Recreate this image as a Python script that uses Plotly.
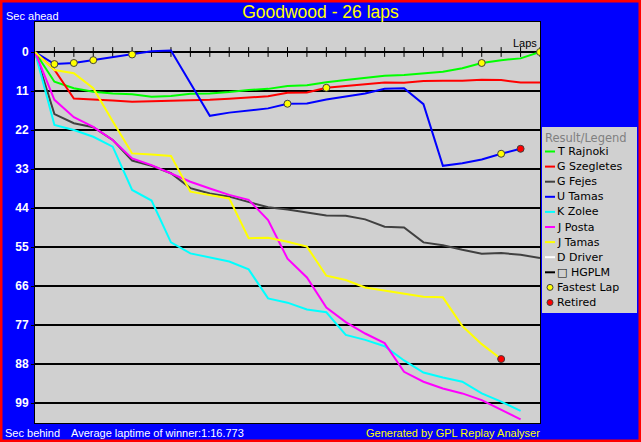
import plotly.graph_objects as go

# ---------------- data ----------------
laps = list(range(27))
y_tick_vals = [0, 11, 22, 33, 44, 55, 66, 77, 88, 99]

drivers = ["T Rajnoki", "G Szegletes", "G Fejes", "U Tamas", "K Zolee",
           "J Posta", "J Tamas", "D Driver", "\u25a1 HGPLM"]
colors = ["#00FF00", "#FF0000", "#404040", "#0000FF", "#00FFFF",
          "#FF00FF", "#FFFF00", "#FFFFFF", "#000000"]

t_rajnoki = [0, 8.4, 10.2, 11.2, 11.7, 11.9, 12.6, 12.4, 11.8, 11.7, 11.3, 10.7, 10.4, 9.6,
             9.4, 8.5, 7.9, 7.3, 6.7, 6.5, 6.0, 5.6, 4.6, 3.1, 2.3, 1.8, 0]
g_szegletes = [0, 5.0, 13.1, 13.5, 13.7, 14.0, 13.9, 13.8, 13.6, 13.5, 13.2, 12.8, 12.5, 11.5,
               11.4, 10.1, 9.6, 8.9, 8.6, 8.7, 8.2, 8.1, 8.1, 7.8, 7.9, 8.6, 8.6]
g_fejes = [0, 17.5, 20.1, 21.2, 24.8, 30.6, 32.1, 34.2, 38.4, 39.9, 40.8, 42.2, 43.8, 44.4,
           45.2, 46.1, 46.2, 47.2, 49.3, 49.5, 53.7, 54.5, 55.8, 56.9, 56.7, 57.2, 58.1]
u_tamas = [0, 3.4, 3.1, 2.3, 1.5, 0.7, -0.2, -0.4, 8.8, 18.0, 17.1, 16.6, 15.9, 14.6,
           14.5, 13.4, 12.6, 11.7, 10.4, 10.2, 14.7, 32.1, 31.4, 30.3, 28.7, 27.3]
k_zolee = [0, 20.6, 22.0, 23.9, 26.7, 38.9, 41.9, 53.7, 56.8, 57.9, 59.1, 61.3, 69.5, 70.7,
           72.6, 73.4, 79.8, 81.2, 83.0, 87.0, 90.4, 91.8, 93.0, 96.3, 98.6, 101.2]
j_posta = [0, 13.5, 18.4, 21.1, 24.8, 30.0, 31.9, 34.2, 36.6, 38.5, 40.3, 41.7, 47.4, 58.3,
           63.6, 72.1, 76.2, 79.4, 82.1, 90.2, 93.0, 94.9, 96.3, 98.2, 101.0, 103.6]
j_tamas = [0, 5.1, 6.0, 10.2, 19.5, 28.6, 28.9, 29.3, 39.4, 40.3, 41.3, 52.5, 52.4, 53.5,
           54.9, 63.1, 64.3, 66.4, 67.3, 68.2, 69.0, 69.2, 77.3, 82.4, 86.6]
d_driver = []
hgplm = []

series = [t_rajnoki, g_szegletes, g_fejes, u_tamas, k_zolee, j_posta, j_tamas, d_driver, hgplm]

# fastest laps: (driver index, lap)
fastest_laps = [(3, 1), (3, 2), (3, 3), (3, 5), (3, 13), (1, 15), (0, 23), (3, 24), (0, 26)]
# retired drivers (marker on last lap completed)
retired = [3, 6]

# ---------------- figure ----------------
W, H = 641, 442
L, R, T, B = 35, 101, 22, 19
PW, PH = W - L - R, H - T - B


def px(xp):
    return (xp - L) / PW


def py(yp):
    return (H - B - yp) / PH


fig = go.Figure()

# tick marks on the zero line (lap ticks)
fig.add_trace(go.Scatter(
    x=laps[1:], y=[0] * len(laps[1:]), mode="markers",
    marker=dict(symbol="line-ns", size=7, line=dict(color="black", width=1)),
    showlegend=False, hoverinfo="skip"))

for name, col, vals in zip(drivers, colors, series):
    if not vals:
        continue
    fig.add_trace(go.Scatter(
        x=laps[:len(vals)], y=vals, mode="lines", name=name,
        line=dict(color=col, width=2), showlegend=False))

fig.add_trace(go.Scatter(
    x=[lap for d, lap in fastest_laps],
    y=[series[d][lap] for d, lap in fastest_laps],
    mode="markers", name="Fastest Lap", showlegend=False,
    marker=dict(symbol="circle", size=7, color="#FFFF00", line=dict(color="#404040", width=1))))

fig.add_trace(go.Scatter(
    x=[len(series[d]) - 1 for d in retired],
    y=[series[d][-1] for d in retired],
    mode="markers", name="Retired", showlegend=False,
    marker=dict(symbol="circle", size=7, color="#FF0000", line=dict(color="#404040", width=1))))

shapes = []
annotations = []

# legend box (manual, to match compact row spacing)
shapes.append(dict(type="rect", xref="paper", yref="paper",
                   x0=px(542), x1=px(637), y0=py(313), y1=py(127),
                   fillcolor="#D0D0D0", line=dict(width=0), layer="above"))
annotations.append(dict(text="Result/Legend", xref="paper", yref="paper",
                        x=px(543), y=py(137.5), xanchor="left", yanchor="middle",
                        showarrow=False, font=dict(family="DejaVu Sans", size=11.5, color="#808080")))

legend_items = [(n, c, "line") for n, c in zip(drivers, colors)]
legend_items += [("Fastest Lap", "#FFFF00", "dot"), ("Retired", "#FF0000", "dot")]
for i, (name, col, kind) in enumerate(legend_items):
    yc = 151.5 + 15.1 * i
    if kind == "line":
        shapes.append(dict(type="line", xref="paper", yref="paper",
                           x0=px(545), x1=px(555), y0=py(yc), y1=py(yc),
                           line=dict(color=col, width=2), layer="above"))
    else:
        shapes.append(dict(type="circle", xref="paper", yref="paper",
                           x0=px(547), x1=px(553), y0=py(yc + 3), y1=py(yc - 3),
                           fillcolor=col, line=dict(color="#404040", width=1), layer="above"))
    annotations.append(dict(text=name, xref="paper", yref="paper",
                            x=px(555), y=py(yc), xanchor="left", yanchor="middle",
                            showarrow=False, font=dict(family="DejaVu Sans", size=11, color="black")))

# red outer border
shapes.append(dict(type="rect", xref="paper", yref="paper",
                   x0=px(0), x1=px(W), y0=py(H), y1=py(0),
                   line=dict(color="#FF0000", width=5), fillcolor="rgba(0,0,0,0)", layer="above"))

txt_font = dict(family="Liberation Sans", size=11, color="white")
annotations += [
    dict(text="Sec ahead", xref="paper", yref="paper", x=px(4), y=py(15.5),
         xanchor="left", yanchor="middle", showarrow=False, font=txt_font),
    dict(text="Sec behind", xref="paper", yref="paper", x=px(3), y=py(432.5),
         xanchor="left", yanchor="middle", showarrow=False, font=txt_font),
    dict(text="Average laptime of winner:1:16.773", xref="paper", yref="paper", x=px(69), y=py(432.5),
         xanchor="left", yanchor="middle", showarrow=False, font=txt_font),
    dict(text="Generated by GPL Replay Analyser", xref="paper", yref="paper", x=px(542), y=py(432.5),
         xanchor="right", yanchor="middle", showarrow=False,
         font=dict(family="Liberation Sans", size=11, color="#FFFF00")),
    dict(text="Laps", xref="x", yref="y", x=laps[-1], y=0, xanchor="right", yanchor="bottom",
         yshift=1, xshift=-1, showarrow=False,
         font=dict(family="Liberation Sans", size=11, color="black")),
]

top_val = -(52 - T) * 11 / 39
bot_val = (H - B - 52) * 11 / 39

fig.update_layout(
    width=W, height=H,
    margin=dict(l=L, r=R, t=T, b=B, pad=0),
    paper_bgcolor="#0000FF",
    plot_bgcolor="#D0D0D0",
    font=dict(family="Liberation Sans", size=11, color="white"),
    title=dict(text="Goodwood - 26 laps", x=0.5, xref="container", xanchor="center",
               y=1 - 12 / H, yref="container", yanchor="middle",
               font=dict(family="Liberation Sans", size=17.5, color="#FFFF00")),
    showlegend=False,
    xaxis=dict(range=[laps[0], laps[-1]], showgrid=False, zeroline=False,
               showticklabels=False, ticks="", showline=True, mirror=True,
               linecolor="black", linewidth=1, fixedrange=True),
    yaxis=dict(range=[bot_val, top_val], tickvals=y_tick_vals,
               ticktext=[str(v) for v in y_tick_vals],
               showgrid=True, gridcolor="black", gridwidth=1.5, zeroline=False,
               ticks="outside", ticklen=3, tickcolor="black", tickwidth=1,
               tickfont=dict(family="Liberation Sans", size=12, color="white", weight="bold"),
               showline=True, mirror=True, linecolor="black", linewidth=1, fixedrange=True),
    shapes=shapes,
    annotations=annotations,
)

fig.write_html("out.html", config={"displayModeBar": False},
               post_script="document.body.style.margin='0px';document.body.style.overflow='hidden';")
